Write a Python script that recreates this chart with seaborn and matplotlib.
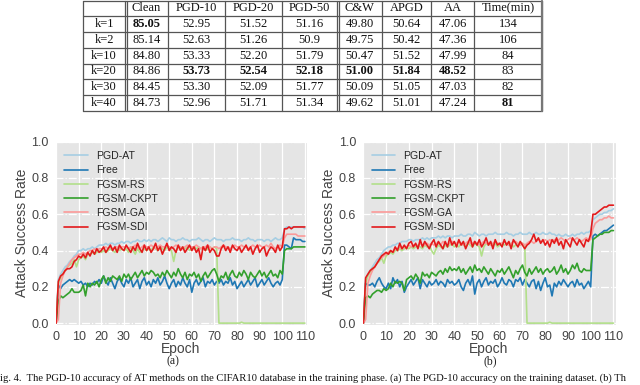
import numpy as np
import pandas as pd
import matplotlib
matplotlib.use('Agg')
import matplotlib.pyplot as plt
import seaborn as sns

sns.set_style('darkgrid', {'axes.facecolor': '#E5E5E5', 'grid.color': 'white'})
plt.rcParams['font.family'] = ['Liberation Sans', 'DejaVu Sans']

# --- tabla ---
col_names = ['', 'Clean', 'PGD-10', 'PGD-20', 'PGD-50', 'C&W', 'APGD', 'AA', 'Time(min)']
row_names = ['k=1', 'k=2', 'k=10', 'k=20', 'k=30', 'k=40']
tabla = [
    ['85.05', '52.95', '51.52', '51.16', '49.80', '50.64', '47.06', '134'],
    ['85.14', '52.63', '51.26', '50.9', '49.75', '50.42', '47.36', '106'],
    ['84.80', '53.33', '52.20', '51.79', '50.47', '51.52', '47.99', '84'],
    ['84.86', '53.73', '52.54', '52.18', '51.00', '51.84', '48.52', '83'],
    ['84.45', '53.30', '52.09', '51.77', '50.09', '51.05', '47.03', '82'],
    ['84.73', '52.96', '51.71', '51.34', '49.62', '51.01', '47.24', '81'],
]
negritas = [(0, 0), (3, 1), (3, 2), (3, 3), (3, 4), (3, 5), (3, 6), (5, 7)]

# --- curvas ---
epochs = list(range(111))
methods = ['PGD-AT', 'Free', 'FGSM-RS', 'FGSM-CKPT', 'FGSM-GA', 'FGSM-SDI']
colors = sns.color_palette('Paired', 6)

pgd_at_a = [0.00, 0.24, 0.27, 0.29, 0.31, 0.32, 0.34, 0.35, 0.37, 0.38, 0.40,
            0.40, 0.41, 0.40, 0.41, 0.41, 0.42, 0.41, 0.42, 0.43, 0.43,
            0.43, 0.44, 0.43, 0.44, 0.44, 0.43, 0.44, 0.44, 0.45, 0.44,
            0.45, 0.45, 0.44, 0.45, 0.45, 0.46, 0.45, 0.45, 0.46, 0.45,
            0.46, 0.45, 0.46, 0.46, 0.45, 0.46, 0.47, 0.46, 0.45, 0.47,
            0.46, 0.46, 0.45, 0.46, 0.46, 0.47, 0.46, 0.46, 0.45, 0.46,
            0.46, 0.46, 0.47, 0.46, 0.45, 0.46, 0.46, 0.45, 0.46, 0.47,
            0.46, 0.46, 0.46, 0.45, 0.46, 0.46, 0.46, 0.47, 0.46, 0.46,
            0.46, 0.45, 0.46, 0.46, 0.47, 0.46, 0.46, 0.45, 0.46, 0.46,
            0.46, 0.45, 0.46, 0.46, 0.45, 0.46, 0.47, 0.46, 0.46, 0.47,
            0.52, 0.53, 0.53, 0.53, 0.53, 0.53, 0.53, 0.53, 0.53, 0.52]
free_a = [0.00, 0.21, 0.19, 0.21, 0.22, 0.23, 0.24, 0.23, 0.24, 0.23, 0.22,
          0.23, 0.21, 0.22, 0.20, 0.22, 0.21, 0.23, 0.22, 0.24, 0.22,
          0.26, 0.23, 0.21, 0.25, 0.22, 0.19, 0.23, 0.25, 0.22, 0.20,
          0.24, 0.22, 0.25, 0.20, 0.22, 0.24, 0.19, 0.23, 0.25, 0.21,
          0.23, 0.20, 0.24, 0.22, 0.25, 0.21, 0.23, 0.26, 0.22, 0.19,
          0.22, 0.24, 0.20, 0.23, 0.21, 0.25, 0.22, 0.20, 0.24, 0.17,
          0.22, 0.24, 0.21, 0.23, 0.25, 0.20, 0.23, 0.22, 0.24, 0.21,
          0.23, 0.22, 0.24, 0.21, 0.23, 0.22, 0.25, 0.21, 0.23, 0.19,
          0.21, 0.23, 0.20, 0.22, 0.24, 0.21, 0.23, 0.25, 0.20, 0.22,
          0.24, 0.21, 0.23, 0.25, 0.22, 0.20, 0.22, 0.23, 0.21, 0.24,
          0.43, 0.43, 0.42, 0.41, 0.47, 0.46, 0.46, 0.46, 0.45, 0.45]
rs_a = [0.00, 0.22, 0.25, 0.27, 0.29, 0.31, 0.32, 0.33, 0.35, 0.31, 0.35,
        0.36, 0.37, 0.35, 0.38, 0.38, 0.39, 0.38, 0.39, 0.40, 0.39,
        0.40, 0.39, 0.40, 0.41, 0.40, 0.39, 0.41, 0.40, 0.41, 0.40,
        0.41, 0.39, 0.42, 0.40, 0.38, 0.41, 0.39, 0.40, 0.41, 0.40,
        0.41, 0.40, 0.42, 0.41, 0.40, 0.42, 0.41, 0.40, 0.42, 0.41,
        0.40, 0.34, 0.40, 0.42, 0.41, 0.42, 0.41, 0.42, 0.40, 0.41,
        0.42, 0.41, 0.42, 0.41, 0.42, 0.40, 0.41, 0.42, 0.41, 0.42,
        0.41, 0.00, 0.00, 0.00, 0.00, 0.00, 0.00, 0.00, 0.00, 0.00,
        0.00, 0.005, 0.00, 0.00, 0.00, 0.00, 0.00, 0.00, 0.00, 0.00,
        0.00, 0.00, 0.00, 0.00, 0.00, 0.00, 0.00, 0.00, 0.00, 0.00,
        0.00, 0.00, 0.00, 0.00, 0.00, 0.00, 0.00, 0.00, 0.00, 0.00]
ckpt_a = [0.00, 0.12, 0.15, 0.14, 0.15, 0.16, 0.17, 0.19, 0.17, 0.17, 0.17,
          0.18, 0.21, 0.15, 0.22, 0.20, 0.22, 0.21, 0.23, 0.20, 0.24,
          0.26, 0.22, 0.25, 0.23, 0.26, 0.25, 0.24, 0.26, 0.23, 0.27,
          0.25, 0.27, 0.24, 0.26, 0.28, 0.25, 0.27, 0.29, 0.26, 0.28,
          0.27, 0.29, 0.28, 0.26, 0.27, 0.25, 0.28, 0.26, 0.29, 0.27,
          0.25, 0.28, 0.26, 0.30, 0.27, 0.25, 0.28, 0.24, 0.27, 0.26,
          0.28, 0.25, 0.27, 0.23, 0.26, 0.28, 0.25, 0.27, 0.29, 0.30,
          0.27, 0.23, 0.26, 0.25, 0.28, 0.24, 0.27, 0.29, 0.26, 0.25,
          0.28, 0.26, 0.29, 0.27, 0.24, 0.28, 0.26, 0.25, 0.27, 0.29,
          0.26, 0.28, 0.25, 0.27, 0.29, 0.26, 0.27, 0.25, 0.29, 0.27,
          0.40, 0.41, 0.41, 0.41, 0.42, 0.42, 0.42, 0.42, 0.42, 0.42]
ga_a = [0.00, 0.02, 0.22, 0.26, 0.29, 0.31, 0.33, 0.35, 0.36, 0.37, 0.38,
        0.38, 0.39, 0.38, 0.39, 0.40, 0.40, 0.41, 0.40, 0.41, 0.41,
        0.41, 0.42, 0.41, 0.42, 0.41, 0.42, 0.42, 0.41, 0.42, 0.42,
        0.42, 0.41, 0.42, 0.42, 0.43, 0.42, 0.41, 0.42, 0.43, 0.42,
        0.42, 0.43, 0.42, 0.41, 0.42, 0.43, 0.42, 0.42, 0.43, 0.42,
        0.41, 0.42, 0.43, 0.42, 0.42, 0.41, 0.42, 0.43, 0.42, 0.42,
        0.42, 0.43, 0.42, 0.41, 0.42, 0.42, 0.43, 0.42, 0.41, 0.42,
        0.42, 0.41, 0.42, 0.43, 0.42, 0.42, 0.41, 0.42, 0.43, 0.42,
        0.42, 0.43, 0.42, 0.42, 0.41, 0.42, 0.43, 0.42, 0.42, 0.43,
        0.42, 0.42, 0.43, 0.42, 0.44, 0.42, 0.41, 0.42, 0.43, 0.42,
        0.47, 0.49, 0.49, 0.49, 0.49, 0.49, 0.48, 0.48, 0.48, 0.48]
sdi_a = [0.00, 0.23, 0.26, 0.27, 0.29, 0.30, 0.30, 0.31, 0.34, 0.35, 0.37,
         0.36, 0.38, 0.36, 0.39, 0.37, 0.40, 0.38, 0.41, 0.39, 0.40,
         0.42, 0.39, 0.41, 0.43, 0.40, 0.42, 0.39, 0.43, 0.41, 0.40,
         0.43, 0.41, 0.39, 0.42, 0.40, 0.44, 0.41, 0.39, 0.43, 0.40,
         0.42, 0.39, 0.41, 0.44, 0.40, 0.42, 0.38, 0.41, 0.44, 0.40,
         0.42, 0.41, 0.39, 0.43, 0.40, 0.42, 0.39, 0.41, 0.43, 0.40,
         0.42, 0.39, 0.41, 0.35, 0.42, 0.40, 0.43, 0.39, 0.41, 0.40,
         0.37, 0.37, 0.41, 0.43, 0.40, 0.42, 0.39, 0.43, 0.41, 0.40,
         0.42, 0.39, 0.41, 0.43, 0.40, 0.42, 0.38, 0.41, 0.43, 0.39,
         0.41, 0.42, 0.37, 0.40, 0.42, 0.41, 0.39, 0.43, 0.40, 0.42,
         0.52, 0.52, 0.53, 0.52, 0.53, 0.53, 0.53, 0.53, 0.53, 0.53]

pgd_at_b = [0.00, 0.24, 0.27, 0.29, 0.31, 0.33, 0.35, 0.36, 0.38, 0.40, 0.41,
            0.42, 0.42, 0.43, 0.43, 0.44, 0.44, 0.45, 0.45, 0.45, 0.46,
            0.46, 0.45, 0.46, 0.46, 0.46, 0.47, 0.46, 0.47, 0.46, 0.47,
            0.47, 0.47, 0.48, 0.47, 0.48, 0.47, 0.48, 0.48, 0.47, 0.48,
            0.48, 0.48, 0.49, 0.48, 0.48, 0.49, 0.49, 0.48, 0.50, 0.49,
            0.48, 0.49, 0.49, 0.48, 0.49, 0.49, 0.49, 0.50, 0.49, 0.49,
            0.49, 0.49, 0.50, 0.49, 0.49, 0.48, 0.49, 0.49, 0.50, 0.49,
            0.49, 0.49, 0.50, 0.49, 0.49, 0.50, 0.49, 0.49, 0.50, 0.49,
            0.49, 0.50, 0.49, 0.49, 0.48, 0.49, 0.48, 0.48, 0.49, 0.48,
            0.48, 0.49, 0.48, 0.49, 0.49, 0.50, 0.49, 0.50, 0.50, 0.51,
            0.57, 0.58, 0.59, 0.60, 0.60, 0.61, 0.61, 0.62, 0.62, 0.63]
free_b = [0.00, 0.22, 0.21, 0.21, 0.22, 0.20, 0.23, 0.25, 0.22, 0.20, 0.19,
          0.22, 0.19, 0.25, 0.22, 0.24, 0.20, 0.23, 0.17, 0.20, 0.22,
          0.24, 0.21, 0.23, 0.25, 0.19, 0.24, 0.22, 0.20, 0.23, 0.21,
          0.22, 0.24, 0.21, 0.23, 0.22, 0.20, 0.24, 0.22, 0.23, 0.21,
          0.22, 0.24, 0.20, 0.18, 0.22, 0.24, 0.21, 0.26, 0.16, 0.22,
          0.24, 0.20, 0.23, 0.25, 0.21, 0.23, 0.22, 0.24, 0.20, 0.22,
          0.25, 0.22, 0.21, 0.24, 0.23, 0.20, 0.24, 0.23, 0.25, 0.21,
          0.24, 0.22, 0.20, 0.23, 0.24, 0.19, 0.23, 0.18, 0.22, 0.25,
          0.20, 0.21, 0.15, 0.22, 0.20, 0.23, 0.21, 0.24, 0.22, 0.20,
          0.22, 0.23, 0.20, 0.24, 0.21, 0.22, 0.19, 0.21, 0.23, 0.20,
          0.48, 0.49, 0.48, 0.49, 0.50, 0.51, 0.51, 0.52, 0.53, 0.54]
rs_b = [0.00, 0.22, 0.26, 0.28, 0.30, 0.31, 0.33, 0.34, 0.36, 0.33, 0.37,
        0.38, 0.39, 0.38, 0.40, 0.40, 0.41, 0.40, 0.41, 0.42, 0.41,
        0.42, 0.41, 0.42, 0.43, 0.42, 0.41, 0.43, 0.42, 0.43, 0.40,
        0.38, 0.41, 0.43, 0.42, 0.41, 0.43, 0.42, 0.43, 0.44, 0.42,
        0.43, 0.42, 0.44, 0.43, 0.42, 0.44, 0.43, 0.42, 0.44, 0.43,
        0.42, 0.37, 0.42, 0.44, 0.43, 0.44, 0.43, 0.44, 0.42, 0.43,
        0.44, 0.43, 0.44, 0.43, 0.44, 0.42, 0.43, 0.44, 0.43, 0.44,
        0.43, 0.00, 0.00, 0.00, 0.00, 0.00, 0.00, 0.00, 0.00, 0.00,
        0.00, 0.005, 0.00, 0.00, 0.00, 0.00, 0.00, 0.00, 0.00, 0.00,
        0.00, 0.00, 0.00, 0.00, 0.00, 0.00, 0.00, 0.00, 0.00, 0.00,
        0.00, 0.00, 0.00, 0.00, 0.00, 0.00, 0.00, 0.00, 0.00, 0.00]
ckpt_b = [0.00, 0.14, 0.15, 0.14, 0.16, 0.17, 0.18, 0.18, 0.17, 0.19, 0.18,
          0.19, 0.22, 0.20, 0.23, 0.22, 0.23, 0.22, 0.18, 0.24, 0.25,
          0.26, 0.24, 0.27, 0.25, 0.22, 0.28, 0.26, 0.27, 0.25, 0.28,
          0.27, 0.26, 0.28, 0.29, 0.27, 0.30, 0.28, 0.31, 0.29, 0.30,
          0.29, 0.31, 0.28, 0.30, 0.27, 0.29, 0.31, 0.28, 0.32, 0.29,
          0.30, 0.28, 0.31, 0.29, 0.27, 0.30, 0.28, 0.26, 0.29, 0.28,
          0.30, 0.27, 0.29, 0.31, 0.28, 0.25, 0.29, 0.27, 0.30, 0.32,
          0.28, 0.26, 0.30, 0.27, 0.29, 0.31, 0.28, 0.30, 0.27, 0.29,
          0.30, 0.28, 0.29, 0.31, 0.27, 0.29, 0.32, 0.28, 0.30, 0.27,
          0.29, 0.32, 0.30, 0.33, 0.29, 0.28, 0.30, 0.29, 0.29, 0.29,
          0.46, 0.47, 0.48, 0.49, 0.49, 0.50, 0.50, 0.50, 0.51, 0.51]
ga_b = [0.00, 0.02, 0.22, 0.26, 0.29, 0.31, 0.33, 0.35, 0.36, 0.37, 0.38,
        0.39, 0.40, 0.39, 0.41, 0.41, 0.42, 0.41, 0.42, 0.42, 0.43,
        0.42, 0.43, 0.43, 0.42, 0.44, 0.43, 0.43, 0.44, 0.43, 0.44,
        0.43, 0.44, 0.44, 0.43, 0.45, 0.44, 0.43, 0.44, 0.45, 0.44,
        0.44, 0.45, 0.44, 0.43, 0.44, 0.45, 0.44, 0.44, 0.45, 0.44,
        0.43, 0.44, 0.45, 0.44, 0.44, 0.43, 0.44, 0.45, 0.44, 0.44,
        0.44, 0.45, 0.44, 0.43, 0.44, 0.45, 0.45, 0.44, 0.43, 0.44,
        0.43, 0.44, 0.45, 0.45, 0.44, 0.45, 0.46, 0.45, 0.45, 0.46,
        0.45, 0.46, 0.45, 0.46, 0.45, 0.46, 0.47, 0.46, 0.45, 0.46,
        0.47, 0.46, 0.46, 0.47, 0.46, 0.45, 0.46, 0.47, 0.46, 0.46,
        0.52, 0.55, 0.56, 0.57, 0.57, 0.58, 0.58, 0.59, 0.58, 0.58]
sdi_b = [0.00, 0.25, 0.27, 0.29, 0.30, 0.31, 0.33, 0.35, 0.37, 0.38, 0.39,
         0.38, 0.40, 0.39, 0.42, 0.40, 0.44, 0.41, 0.43, 0.41, 0.44,
         0.45, 0.42, 0.44, 0.41, 0.46, 0.42, 0.45, 0.43, 0.41, 0.44,
         0.46, 0.42, 0.45, 0.43, 0.41, 0.45, 0.42, 0.47, 0.43, 0.45,
         0.42, 0.46, 0.43, 0.45, 0.41, 0.44, 0.47, 0.42, 0.45, 0.43,
         0.46, 0.42, 0.44, 0.47, 0.43, 0.45, 0.41, 0.46, 0.43, 0.44,
         0.42, 0.46, 0.43, 0.45, 0.41, 0.46, 0.44, 0.42, 0.45, 0.43,
         0.41, 0.43, 0.44, 0.46, 0.49, 0.45, 0.47, 0.44, 0.46, 0.43,
         0.45, 0.42, 0.46, 0.44, 0.47, 0.43, 0.45, 0.41, 0.46, 0.44,
         0.42, 0.47, 0.45, 0.43, 0.46, 0.44, 0.42, 0.46, 0.45, 0.49,
         0.60, 0.60, 0.61, 0.62, 0.63, 0.64, 0.64, 0.65, 0.65, 0.65]

panel_a = [pgd_at_a, free_a, rs_a, ckpt_a, ga_a, sdi_a]
panel_b = [pgd_at_b, free_b, rs_b, ckpt_b, ga_b, sdi_b]


def a_largo(series):
    filas = []
    for m, vals in zip(methods, series):
        for e, v in zip(epochs, vals):
            filas.append({'Epoch': e, 'rate': v, 'method': m})
    return pd.DataFrame(filas)


fig = plt.figure(figsize=(6.4, 3.85), dpi=100)

# capa de fondo en pixeles para la tabla y el pie
bg = fig.add_axes([0, 0, 1, 1], zorder=-1)
bg.set_xlim(0, 640)
bg.set_ylim(385, 0)
bg.axis('off')

serif = ['Liberation Serif', 'DejaVu Serif']
x_lines = [83, 125, 168, 225, 282, 337, 382, 431, 474, 542]
y_lines = [0.8, 16, 32, 48, 63.5, 79, 95, 110.5]
for y in y_lines:
    bg.plot([83, 542], [y, y], color='#555555', lw=0.9)
for x in x_lines:
    bg.plot([x, x], [0.8, 110.5], color='#555555', lw=0.9)
for x in [127, 339]:
    bg.plot([x, x], [0.8, 110.5], color='#555555', lw=0.9)
bg.plot([542, 542], [0.8, 110.5], color='#777777', lw=1.6)

centros = [(x_lines[i] + x_lines[i + 1]) / 2 for i in range(len(x_lines) - 1)]
centros[0] = 104
filas_y = [(y_lines[i] + y_lines[i + 1]) / 2 for i in range(len(y_lines) - 1)]
for j, nombre in enumerate(col_names):
    bg.text(centros[j], filas_y[0], nombre, ha='center', va='center',
            family=serif, fontsize=9, color='#111111')
for i, r in enumerate(row_names):
    bg.text(centros[0], filas_y[i + 1], r, ha='center', va='center',
            family=serif, fontsize=9, color='#111111')
    for j, val in enumerate(tabla[i]):
        peso = 'bold' if (i, j) in negritas else 'normal'
        bg.text(centros[j + 1], filas_y[i + 1], val, ha='center', va='center',
                family=serif, fontsize=9, fontweight=peso, color='#111111')

# pie de figura (recortado como en la imagen original)
bg.text(0.5, 378, 'ig. 4.  The PGD-10 accuracy of AT methods on the CIFAR10 database in the training phase. '
        '(a) The PGD-10 accuracy on the training dataset. (b) Th', ha='left', va='center',
        family=serif, fontsize=7.6, color='#111111')
bg.text(173, 361, '(a)', ha='center', va='center', family=serif, fontsize=8.5, color='#222222')
bg.text(490, 361, '(b)', ha='center', va='center', family=serif, fontsize=8.5, color='#222222')

paleta = dict(zip(methods, colors))
for rect, series in [([0.0859, 0.156, 0.394, 0.476], panel_a),
                     ([0.566, 0.156, 0.396, 0.476], panel_b)]:
    ax = fig.add_axes(rect)
    df = a_largo(series)
    sns.lineplot(data=df, x='Epoch', y='rate', hue='method', hue_order=methods,
                 palette=paleta, lw=1.2, ax=ax)
    ax.set_xlim(-0.5, 111)
    ax.set_ylim(-0.01, 1.0)
    ax.set_xticks(range(0, 111, 10))
    ax.set_yticks(np.arange(0, 1.01, 0.2))
    ax.set_yticklabels([f'{v:.1f}' for v in np.arange(0, 1.01, 0.2)])
    ax.grid(axis='y', linestyle='-.', color='white', lw=0.9)
    ax.grid(axis='x', linestyle='-', color='white', lw=0.9)
    ax.tick_params(labelsize=9, colors='#444444', pad=1)
    ax.set_xlabel('Epoch', fontsize=10, color='#444444', labelpad=-1)
    ax.set_ylabel('Attack Success Rate', fontsize=10, color='#444444', labelpad=2)
    ax.legend(loc='upper left', frameon=False, fontsize=7.6, handlelength=2.2,
              handletextpad=0.8, labelspacing=0.4)

fig.savefig('out.png', dpi=100)
